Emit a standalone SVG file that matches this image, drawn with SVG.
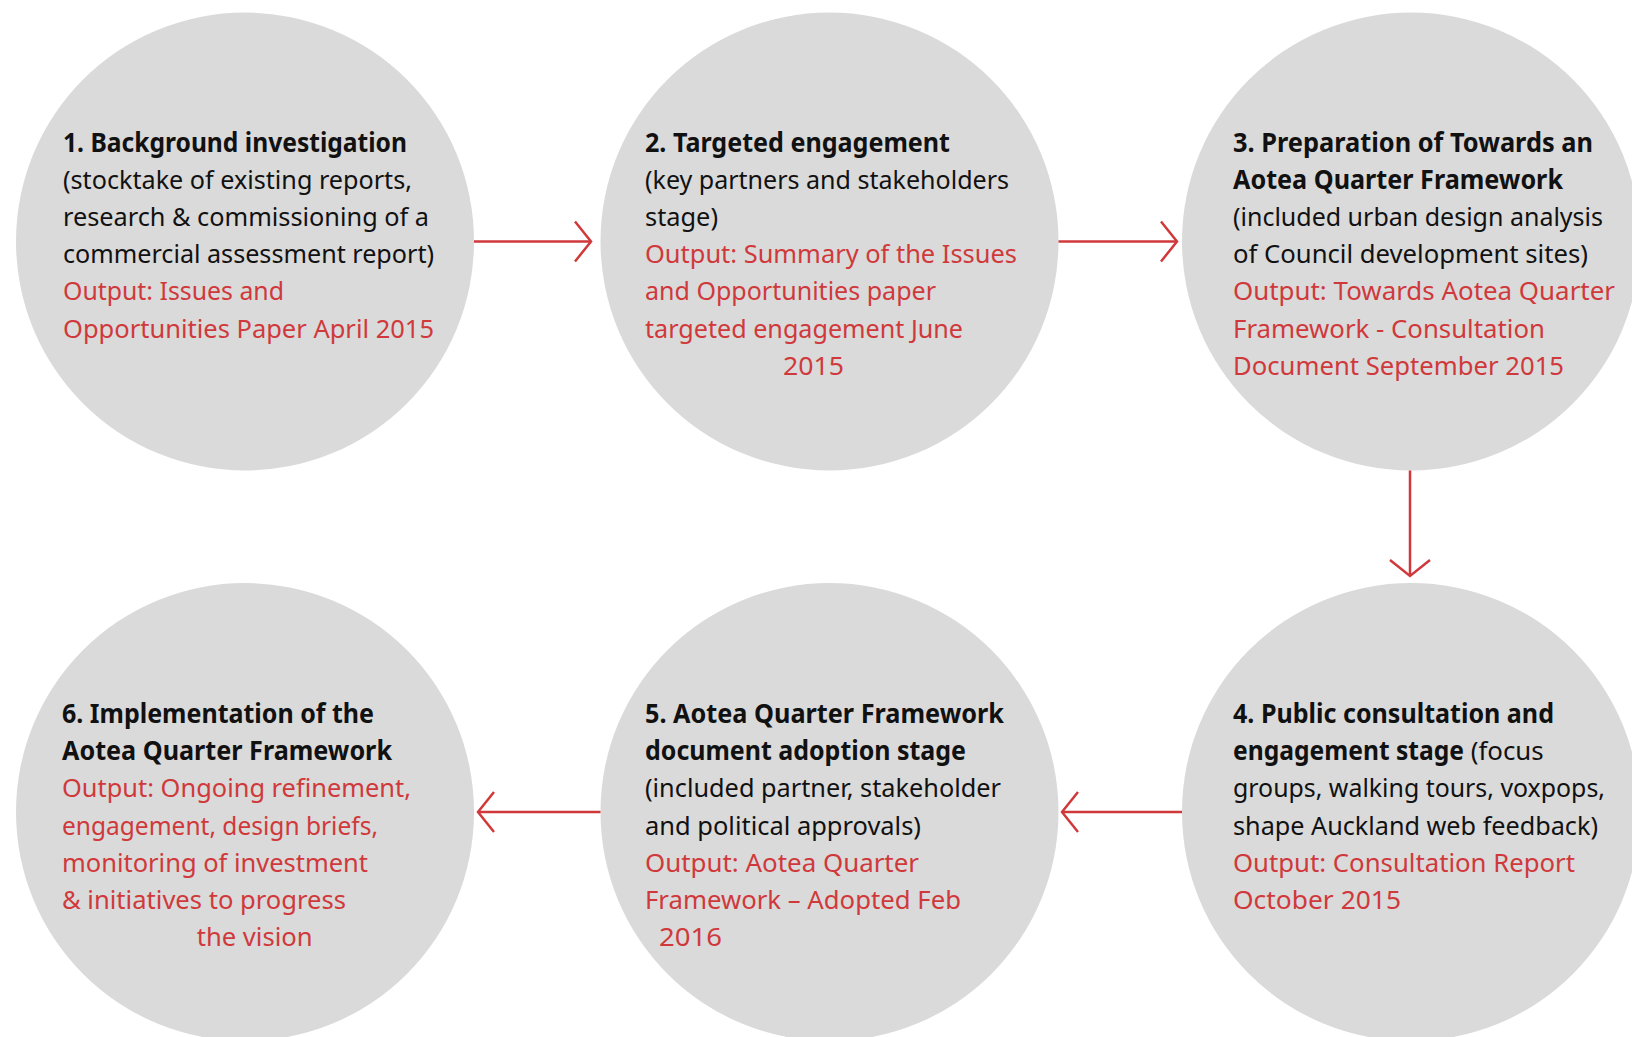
<svg xmlns="http://www.w3.org/2000/svg" width="1632" height="1037" viewBox="0 0 1632 1037">
  <defs>
    <style>
      .disc { fill: #dadada; }
      .t { font-family: "Noto Sans", "Open Sans", "Liberation Sans", sans-serif; font-size: 26px; fill: #111111; }
      .b { font-weight: bold; }
      .r { fill: #d0393b; }
      .link { stroke: #d0393b; stroke-width: 2.5; fill: none; marker-end: url(#chev); }
    </style>
    <marker id="chev" markerUnits="userSpaceOnUse" markerWidth="44" markerHeight="48" viewBox="-22 -24 44 48" refX="0" refY="0" orient="auto" overflow="visible">
      <path d="M-16,-20 L0,0 L-16,20" fill="none" stroke="#d0393b" stroke-width="2.5"/>
    </marker>
  </defs>

  <rect width="1632" height="1037" fill="#ffffff"/>

  <!-- Stage 1 -->
  <g id="stage1">
    <circle class="disc" cx="245" cy="241.5" r="229"/>
    <text class="t b" x="63" y="151.5" textLength="344" lengthAdjust="spacingAndGlyphs">1. Background investigation</text>
    <text class="t" x="63" y="188.8" textLength="349" lengthAdjust="spacingAndGlyphs">(stocktake of existing reports,</text>
    <text class="t" x="63" y="226" textLength="366" lengthAdjust="spacingAndGlyphs">research &amp; commissioning of a</text>
    <text class="t" x="63" y="263.2" textLength="371" lengthAdjust="spacingAndGlyphs">commercial assessment report)</text>
    <text class="t r" x="63" y="300.4" textLength="221" lengthAdjust="spacingAndGlyphs">Output: Issues and</text>
    <text class="t r" x="63" y="337.6" textLength="371" lengthAdjust="spacingAndGlyphs">Opportunities Paper April 2015</text>
  </g>

  <!-- Stage 2 -->
  <g id="stage2">
    <circle class="disc" cx="829.5" cy="241.5" r="229"/>
    <text class="t b" x="645" y="151.5" textLength="305" lengthAdjust="spacingAndGlyphs">2. Targeted engagement</text>
    <text class="t" x="645" y="188.8" textLength="364" lengthAdjust="spacingAndGlyphs">(key partners and stakeholders</text>
    <text class="t" x="645" y="226" textLength="73" lengthAdjust="spacingAndGlyphs">stage)</text>
    <text class="t r" x="645" y="263.2" textLength="372" lengthAdjust="spacingAndGlyphs">Output: Summary of the Issues</text>
    <text class="t r" x="645" y="300.4" textLength="291" lengthAdjust="spacingAndGlyphs">and Opportunities paper</text>
    <text class="t r" x="645" y="337.6" textLength="318" lengthAdjust="spacingAndGlyphs">targeted engagement June</text>
    <text class="t r" x="783" y="374.8" textLength="61" lengthAdjust="spacingAndGlyphs">2015</text>
  </g>

  <!-- Stage 3 -->
  <g id="stage3">
    <circle class="disc" cx="1411" cy="241.5" r="229"/>
    <text class="t b" x="1233" y="151.5" textLength="360" lengthAdjust="spacingAndGlyphs">3. Preparation of Towards an</text>
    <text class="t b" x="1233" y="188.8" textLength="330" lengthAdjust="spacingAndGlyphs">Aotea Quarter Framework</text>
    <text class="t" x="1233" y="226" textLength="370" lengthAdjust="spacingAndGlyphs">(included urban design analysis</text>
    <text class="t" x="1233" y="263.2" textLength="355" lengthAdjust="spacingAndGlyphs">of Council development sites)</text>
    <text class="t r" x="1233" y="300.4" textLength="382" lengthAdjust="spacingAndGlyphs">Output: Towards Aotea Quarter</text>
    <text class="t r" x="1233" y="337.6" textLength="312" lengthAdjust="spacingAndGlyphs">Framework - Consultation</text>
    <text class="t r" x="1233" y="374.8" textLength="331" lengthAdjust="spacingAndGlyphs">Document September 2015</text>
  </g>

  <!-- Stage 4 -->
  <g id="stage4">
    <circle class="disc" cx="1411" cy="812" r="229"/>
    <text class="t b" x="1233" y="723" textLength="321" lengthAdjust="spacingAndGlyphs">4. Public consultation and</text>
    <text class="t b" x="1233" y="760.2" textLength="231" lengthAdjust="spacingAndGlyphs">engagement stage</text>
    <text class="t" x="1470.7" y="760.2" textLength="73" lengthAdjust="spacingAndGlyphs">(focus</text>
    <text class="t" x="1233" y="797.4" textLength="372" lengthAdjust="spacingAndGlyphs">groups, walking tours, voxpops,</text>
    <text class="t" x="1233" y="834.6" textLength="365" lengthAdjust="spacingAndGlyphs">shape Auckland web feedback)</text>
    <text class="t r" x="1233" y="871.8" textLength="342" lengthAdjust="spacingAndGlyphs">Output: Consultation Report</text>
    <text class="t r" x="1233" y="909" textLength="168" lengthAdjust="spacingAndGlyphs">October 2015</text>
  </g>

  <!-- Stage 5 -->
  <g id="stage5">
    <circle class="disc" cx="829.5" cy="812" r="229"/>
    <text class="t b" x="645" y="723" textLength="359" lengthAdjust="spacingAndGlyphs">5. Aotea Quarter Framework</text>
    <text class="t b" x="645" y="760.2" textLength="321" lengthAdjust="spacingAndGlyphs">document adoption stage</text>
    <text class="t" x="645" y="797.4" textLength="356" lengthAdjust="spacingAndGlyphs">(included partner, stakeholder</text>
    <text class="t" x="645" y="834.6" textLength="276" lengthAdjust="spacingAndGlyphs">and political approvals)</text>
    <text class="t r" x="645" y="871.8" textLength="274" lengthAdjust="spacingAndGlyphs">Output: Aotea Quarter</text>
    <text class="t r" x="645" y="909" textLength="316" lengthAdjust="spacingAndGlyphs">Framework – Adopted Feb</text>
    <text class="t r" x="659" y="946.2" textLength="63" lengthAdjust="spacingAndGlyphs">2016</text>
  </g>

  <!-- Stage 6 -->
  <g id="stage6">
    <circle class="disc" cx="245" cy="812" r="229"/>
    <text class="t b" x="62" y="723" textLength="312" lengthAdjust="spacingAndGlyphs">6. Implementation of the</text>
    <text class="t b" x="62" y="760.2" textLength="330" lengthAdjust="spacingAndGlyphs">Aotea Quarter Framework</text>
    <text class="t r" x="62" y="797.4" textLength="349" lengthAdjust="spacingAndGlyphs">Output: Ongoing refinement,</text>
    <text class="t r" x="62" y="834.6" textLength="316" lengthAdjust="spacingAndGlyphs">engagement, design briefs,</text>
    <text class="t r" x="62" y="871.8" textLength="306" lengthAdjust="spacingAndGlyphs">monitoring of investment</text>
    <text class="t r" x="62" y="909" textLength="284" lengthAdjust="spacingAndGlyphs">&amp; initiatives to progress</text>
    <text class="t r" x="196.7" y="946.2" textLength="116" lengthAdjust="spacingAndGlyphs">the vision</text>
  </g>

  <!-- Flow connectors between stages -->
  <g id="connectors">
    <line class="link" x1="474" y1="241.5" x2="591" y2="241.5"/>
    <line class="link" x1="1058.5" y1="241.5" x2="1177" y2="241.5"/>
    <line class="link" x1="1410" y1="470.5" x2="1410" y2="576"/>
    <line class="link" x1="1182" y1="812" x2="1062" y2="812"/>
    <line class="link" x1="600.5" y1="812" x2="478" y2="812"/>
  </g>
</svg>
